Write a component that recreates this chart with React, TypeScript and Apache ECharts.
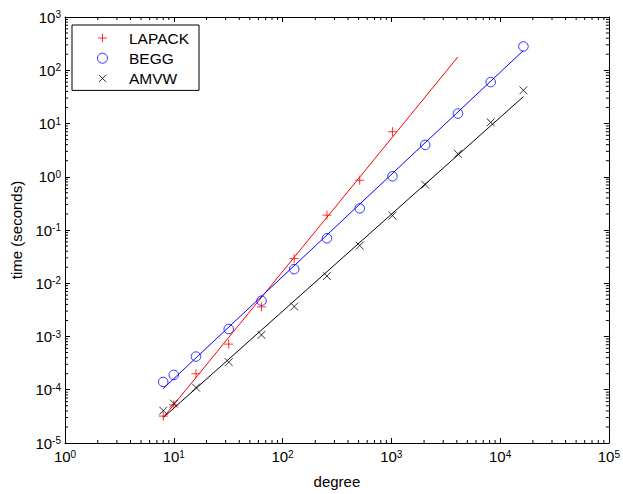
import React, { useEffect, useRef } from "react";
import * as echarts from "echarts";

// ---- data ----
const lapackDegrees = [8, 10, 16, 32, 64, 128, 256, 512, 1024];
const lapackTimes = [3.2e-5, 5.2e-5, 2.0e-4, 7.2e-4, 3.6e-3, 2.9e-2, 0.19, 0.86, 7.0];

const fastDegrees = [8, 10, 16, 32, 64, 128, 256, 512, 1024, 2048, 4096, 8192, 16384];
const beggTimes = [1.4e-4, 1.9e-4, 4.2e-4, 1.38e-3, 4.7e-3, 1.84e-2, 7.0e-2, 0.255, 1.02, 3.96, 15.4, 60, 280];
const amvwTimes = [4.05e-5, 5.5e-5, 1.1e-4, 3.3e-4, 1.07e-3, 3.65e-3, 1.36e-2, 5.1e-2, 0.186, 0.71, 2.69, 10.5, 42];

const lapackFitX = [8, 4096];
const lapackFitY = [3.0e-5, 178];
const beggFitX = [8, 16384];
const beggFitY = [1.05e-4, 235];
const amvwFitX = [8, 16384];
const amvwFitY = [3.0e-5, 32];

const xTickExponents = [0, 1, 2, 3, 4, 5];
const yTickExponents = [-5, -4, -3, -2, -1, 0, 1, 2, 3];
const minorSteps = [2, 3, 4, 5, 6, 7, 8, 9];

const seriesNames = ["LAPACK", "BEGG", "AMVW"];

const FONT = '"Liberation Sans", Arial, Helvetica, sans-serif';
const PLUS = "path://M-0.75,-0.75M10.75,10.75M0,5L10,5M5,0L5,10";
const CROSS = "path://M-2,-2M12,12M0,0L10,10M10,0L0,10";

const X_MIN = Math.pow(10, xTickExponents[0]);
const X_MAX = Math.pow(10, xTickExponents[xTickExponents.length - 1]);
const Y_MIN = Math.pow(10, yTickExponents[0]);
const Y_MAX = Math.pow(10, yTickExponents[yTickExponents.length - 1]);

const zip = (xs: number[], ys: number[]) => xs.map((x, i) => [x, ys[i]]);

const rich = {
  b: { fontSize: 15, lineHeight: 15, padding: [5, 0, 5, 0], fontFamily: FONT, color: "#000" },
  s: { fontSize: 10, lineHeight: 10, verticalAlign: "top", fontFamily: FONT, color: "#000" },
};
const powLabel = (v: number) => `{b|10}{s|${Math.round(Math.log10(v))}}`;

export default function App() {
  const ref = useRef<HTMLDivElement>(null);

  useEffect(() => {
    if (!ref.current) return;
    const chart = echarts.init(ref.current, undefined, { renderer: "svg" });

    const baseAxis = {
      type: "log" as const,
      logBase: 10,
      axisLine: { show: true, onZero: false, lineStyle: { color: "#000", width: 1 } },
      axisTick: { show: true, inside: true, length: 5, lineStyle: { color: "#000", width: 1 } },
      splitLine: { show: false },
      minorTick: { show: false },
    };

    const option: any = {
      animation: false,
      backgroundColor: "#fff",
      textStyle: { fontFamily: FONT },
      grid: { left: 65, right: 13, top: 17, bottom: 47, containLabel: false },
      legend: {
        data: seriesNames,
        orient: "vertical",
        left: 72,
        top: 25,
        padding: [5, 10, 4, 25],
        itemWidth: 43,
        itemHeight: 10,
        itemGap: 4.2,
        borderColor: "#000",
        borderWidth: 1,
        backgroundColor: "#fff",
        selectedMode: false,
        itemStyle: { borderWidth: 1 },
        textStyle: { fontSize: 15.5, lineHeight: 15, fontFamily: FONT, color: "#000" },
      },
      xAxis: [
        {
          ...baseAxis,
          min: X_MIN,
          max: X_MAX,
          splitNumber: 5,
          position: "bottom",
          name: "degree",
          nameLocation: "middle",
          nameGap: 31,
          nameTextStyle: { fontSize: 15, fontFamily: FONT, color: "#000" },
          axisLabel: { show: true, margin: 6, interval: 0, formatter: powLabel, rich },
        },
        {
          ...baseAxis,
          min: X_MIN,
          max: X_MAX,
          splitNumber: 5,
          position: "top",
          axisLabel: { show: false },
        },
      ],
      yAxis: [
        {
          ...baseAxis,
          min: Y_MIN,
          max: Y_MAX,
          splitNumber: 8,
          position: "left",
          name: "time (seconds)",
          nameLocation: "middle",
          nameGap: 41,
          nameTextStyle: { fontSize: 15, fontFamily: FONT, color: "#000" },
          axisLabel: { show: true, margin: 4, interval: 0, formatter: powLabel, rich },
        },
        {
          ...baseAxis,
          min: Y_MIN,
          max: Y_MAX,
          splitNumber: 8,
          position: "right",
          axisLabel: { show: false },
        },
      ],
      series: [
        {
          type: "line",
          name: "LAPACK fit",
          data: zip(lapackFitX, lapackFitY),
          symbol: "none",
          lineStyle: { color: "#ff0000", width: 1 },
          itemStyle: { color: "#ff0000" },
          silent: true,
          z: 2,
        },
        {
          type: "line",
          name: "BEGG fit",
          data: zip(beggFitX, beggFitY),
          symbol: "none",
          lineStyle: { color: "#0000ff", width: 1 },
          itemStyle: { color: "#0000ff" },
          silent: true,
          z: 2,
        },
        {
          type: "line",
          name: "AMVW fit",
          data: zip(amvwFitX, amvwFitY),
          symbol: "none",
          lineStyle: { color: "#000000", width: 1 },
          itemStyle: { color: "#000000" },
          silent: true,
          z: 2,
        },
        {
          type: "scatter",
          name: "LAPACK",
          data: zip(lapackDegrees, lapackTimes),
          symbol: PLUS,
          symbolSize: 10.4,
          itemStyle: { color: "transparent", borderColor: "#ff0000", borderWidth: 1 },
          z: 3,
        },
        {
          type: "scatter",
          name: "BEGG",
          data: zip(fastDegrees, beggTimes),
          symbol: "circle",
          symbolSize: 9.5,
          itemStyle: { color: "transparent", borderColor: "#0000ff", borderWidth: 1 },
          z: 3,
        },
        {
          type: "scatter",
          name: "AMVW",
          data: zip(fastDegrees, amvwTimes),
          symbol: CROSS,
          symbolSize: 11,
          itemStyle: { color: "transparent", borderColor: "#000000", borderWidth: 1 },
          z: 3,
        },
        {
          type: "custom",
          name: "minor ticks",
          silent: true,
          z: 4,
          clip: false,
          data: [[X_MIN, Y_MIN]],
          renderItem: (_params: any, api: any) => {
            const bl = api.coord([X_MIN, Y_MIN]);
            const tr = api.coord([X_MAX, Y_MAX]);
            const style = { stroke: "#000", lineWidth: 1 };
            const children: any[] = [];
            const L = 3;
            xTickExponents.slice(0, -1).forEach((e) => {
              const d = Math.pow(10, e);
              minorSteps.forEach((m) => {
                const px = api.coord([d * m, Y_MIN])[0];
                children.push({ type: "line", shape: { x1: px, y1: bl[1], x2: px, y2: bl[1] - L }, style });
                children.push({ type: "line", shape: { x1: px, y1: tr[1], x2: px, y2: tr[1] + L }, style });
              });
            });
            yTickExponents.slice(0, -1).forEach((e) => {
              const d = Math.pow(10, e);
              minorSteps.forEach((m) => {
                const py = api.coord([X_MIN, d * m])[1];
                children.push({ type: "line", shape: { x1: bl[0], y1: py, x2: bl[0] + L, y2: py }, style });
                children.push({ type: "line", shape: { x1: tr[0], y1: py, x2: tr[0] - L, y2: py }, style });
              });
            });
            return { type: "group", children };
          },
        },
      ],
    };

    chart.setOption(option);
    return () => chart.dispose();
  }, []);

  return <div ref={ref} style={{ width: 623, height: 494, position: "absolute", left: 0, top: 0 }} />;
}
